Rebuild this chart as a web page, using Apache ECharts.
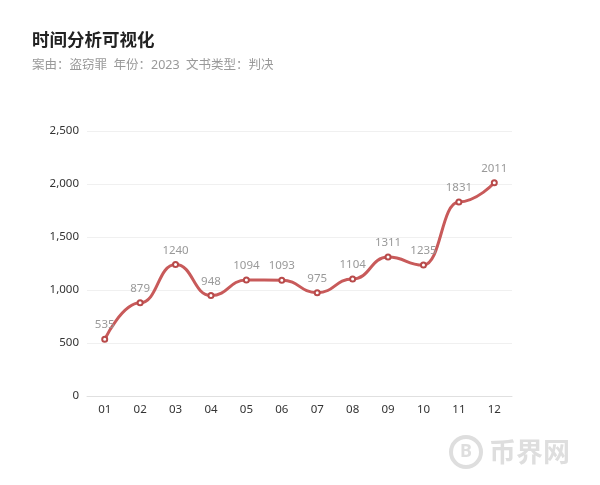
<!DOCTYPE html>
<html><head><meta charset="utf-8">
<script src="https://cdn.jsdelivr.net/npm/echarts@6/dist/echarts.min.js"></script>
<style>html,body{margin:0;padding:0;background:#fff}#c{width:600px;height:485px}</style>
</head><body><div id="c"></div>
<script>
var titleText = '时间分析可视化';
var subText = '案由：盗窃罪  年份：2023  文书类型：判决';
var watermarkText = '币界网';
var months = ['01','02','03','04','05','06','07','08','09','10','11','12'];
var counts = [535, 879, 1240, 948, 1094, 1093, 975, 1104, 1311, 1235, 1831, 2011];
var FONT = '"Noto Sans", "Noto Sans CJK SC", sans-serif';
var chart = echarts.init(document.getElementById('c'));
chart.setOption({
  backgroundColor: '#fff',
  animation: false,
  textStyle: {fontFamily: FONT},
  title: {
    text: titleText, subtext: subText, left: 27, top: 27,
    textStyle: {fontSize: 17.5, fontWeight: 'bold', color: '#222', fontFamily: FONT},
    subtextStyle: {fontSize: 12.5, color: '#999', fontFamily: FONT},
    itemGap: 10
  },
  graphic: [
    {type: 'circle', shape: {cx: 466, cy: 452, r: 15}, style: {fill: 'none', stroke: '#dedede', lineWidth: 4}, silent: true},
    {type: 'text', x: 466, y: 452, style: {text: 'B', fill: '#dedede', font: 'bold 18px "Noto Sans"', align: 'center', verticalAlign: 'middle'}, silent: true},
    {type: 'text', x: 489, y: 452, style: {text: watermarkText, fill: '#dedede', font: 'bold 27px "Noto Sans CJK SC"', verticalAlign: 'middle'}, silent: true}
  ],
  grid: {left: 87, right: 88, top: 131, bottom: 89},
  xAxis: {
    type: 'category', data: months, boundaryGap: true,
    axisLine: {lineStyle: {color: '#e0e0e0'}},
    axisTick: {show: false},
    axisLabel: {color: '#333', fontSize: 11.5, margin: 8, fontFamily: FONT}
  },
  yAxis: {
    type: 'value', min: 0, max: 2500, interval: 500,
    axisLine: {show: false}, axisTick: {show: false},
    splitLine: {lineStyle: {color: '#f0f0f0'}},
    axisLabel: {color: '#333', fontSize: 11.5, margin: 8, fontFamily: FONT}
  },
  series: [{
    type: 'line', data: counts, smooth: true, smoothMonotone: 'x',
    symbol: 'emptyCircle', symbolSize: 5,
    lineStyle: {color: '#c85a5a', width: 3},
    itemStyle: {color: '#b84a4a', borderWidth: 1},
    label: {show: true, position: 'top', color: '#999', fontSize: 11.5, distance: 5, fontFamily: FONT}
  }]
});
</script></body></html>
